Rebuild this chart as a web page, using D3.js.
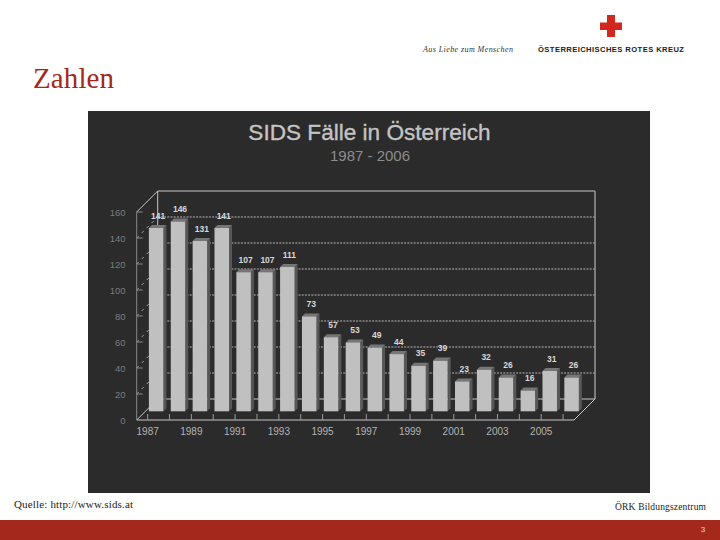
<!DOCTYPE html>
<html>
<head>
<meta charset="utf-8">
<script src="https://cdn.jsdelivr.net/npm/d3@7"></script>
<style>
  html, body { margin: 0; padding: 0; background: #fff; }
  svg { display: block; }
  text { font-family: "Liberation Sans", sans-serif; }
  .serif { font-family: "Liberation Serif", serif; }
</style>
</head>
<body>
<script>
const years = [1987, 1988, 1989, 1990, 1991, 1992, 1993, 1994, 1995, 1996,
  1997, 1998, 1999, 2000, 2001, 2002, 2003, 2004, 2005, 2006]
const cases = [141, 146, 131, 141, 107, 107, 111, 73, 57, 53,
  49, 44, 35, 39, 23, 32, 26, 16, 31, 26]
const yTicks = [0, 20, 40, 60, 80, 100, 120, 140, 160]
const xTicks = [1987, 1989, 1991, 1993, 1995, 1997, 1999, 2001, 2003, 2005]

const svg = d3.select("body").append("svg")
  .attr("width", 720)
  .attr("height", 540)

// slide

svg.append("rect").attr("x", 0).attr("y", 520).attr("width", 720).attr("height", 20).attr("fill", "#a4281c")
svg.append("text").attr("x", 703).attr("y", 532).attr("text-anchor", "middle")
  .attr("font-size", 8).attr("fill", "#f0d8d0").text("3")

svg.append("text").attr("class", "serif").attr("x", 33).attr("y", 88)
  .attr("font-size", 29).attr("textLength", 81).attr("fill", "#a4281c").text("Zahlen")

svg.append("text").attr("class", "serif").attr("x", 14).attr("y", 508)
  .attr("font-size", 11).attr("textLength", 119).attr("fill", "#222").text("Quelle: http://www.sids.at")
svg.append("text").attr("class", "serif").attr("x", 615).attr("y", 510)
  .attr("font-size", 9.5).attr("textLength", 91).attr("fill", "#222").text("ÖRK Bildungszentrum")

// logo
svg.append("rect").attr("x", 600).attr("y", 22.5).attr("width", 22).attr("height", 7.5).attr("fill", "#d0281f")
svg.append("rect").attr("x", 607).attr("y", 15).attr("width", 8).attr("height", 22).attr("fill", "#d0281f")
svg.append("text").attr("x", 538).attr("y", 52)
  .attr("font-size", 7.6).attr("font-weight", "bold").attr("textLength", 146).attr("fill", "#222")
  .text("ÖSTERREICHISCHES ROTES KREUZ")
svg.append("text").attr("class", "serif").attr("x", 423).attr("y", 52)
  .attr("font-size", 8).attr("font-style", "italic").attr("textLength", 90).attr("fill", "#333")
  .text("Aus Liebe zum Menschen")

// chart panel

svg.append("rect").attr("x", 88).attr("y", 111).attr("width", 562).attr("height", 382).attr("fill", "#2b2b2b")

svg.append("text").attr("x", 369.5).attr("y", 139.5).attr("text-anchor", "middle")
  .attr("font-size", 22.6).attr("fill", "#c4c4c4")
  .attr("stroke", "#c4c4c4").attr("stroke-width", 0.35)
  .text("SIDS Fälle in Österreich")
svg.append("text").attr("x", 370).attr("y", 160.5).attr("text-anchor", "middle")
  .attr("font-size", 15).attr("fill", "#8c8c8c").text("1987 - 2006")

const depth = 21
const x = d3.scaleBand().domain(years).range([136.7, 574])
const y = d3.scaleLinear().domain([0, 160]).range([420, 212])

// back wall and floor

const wallColor = "#c8c8c8"
const line = (x1, y1, x2, y2, color = wallColor, w = 1, dash = null) =>
  svg.append("line")
    .attr("x1", x1).attr("y1", y1).attr("x2", x2).attr("y2", y2)
    .attr("stroke", color).attr("stroke-width", w).attr("stroke-dasharray", dash)

const [x0, x1] = x.range()

yTicks.slice(1, -1).forEach(t => {
  line(x0 + depth, y(t) - depth, x1 + depth, y(t) - depth, "#b8b8b8", 1, "2 1.2")
  line(x0, y(t), x0 + depth, y(t) - depth, "#a0a0a0", 1, "3 4")
})
line(x0, y(160), x0 + depth, y(160) - depth)
line(x0 + depth, y(160) - depth, x1 + depth, y(160) - depth)
line(x0 + depth, y(160) - depth, x0 + depth, y(0) - depth)
line(x1 + depth, y(160) - depth, x1 + depth, y(0) - depth, "#999", 1.5)
line(x0 + depth, y(0) - depth, x1 + depth, y(0) - depth)
line(x0, y(0), x0 + depth, y(0) - depth)
line(x1, y(0), x1 + depth, y(0) - depth)
line(x0, y(0), x1, y(0))
line(x0, y(0), x0, y(160), "#888")

yTicks.slice(1).forEach(t => line(x0, y(t), x0 + 6, y(t), "#888"))
years.forEach(v => {
  const cx = x(v) + x.bandwidth() / 2
  line(cx, y(0), cx, y(0) - 6, "#999")
})

// bars

const barW = 14.5
const barLeft = d => x(d) + 12.6 - 0.4
const barBase = y(0) - 8.7
const barTop = v => barBase - (y(0) - y(v))
const side = 3

const bars = svg.selectAll(".bar")
  .data(years.map((year, i) => ({ year, value: cases[i] })))
  .enter().append("g")
  .attr("class", "bar")

bars.append("path")
  .attr("fill", "#585858")
  .attr("d", d => {
    const l = barLeft(d.year) + barW, t = barTop(d.value)
    return `M${l},${t}L${l + side},${t - side}L${l + side},${barBase - side}L${l},${barBase}Z`
  })
bars.append("path")
  .attr("fill", "#767676")
  .attr("d", d => {
    const l = barLeft(d.year), t = barTop(d.value)
    return `M${l},${t}L${l + side},${t - side}L${l + barW + side},${t - side}L${l + barW},${t}Z`
  })
bars.append("rect")
  .attr("x", d => barLeft(d.year))
  .attr("y", d => barTop(d.value))
  .attr("width", barW)
  .attr("height", d => barBase - barTop(d.value))
  .attr("fill", "#c0c0c0")

bars.append("text")
  .attr("x", d => barLeft(d.year) + barW / 2 + 2)
  .attr("y", d => barTop(d.value) - 9.5)
  .attr("text-anchor", "middle")
  .attr("font-size", 8.5)
  .attr("font-weight", "bold")
  .attr("fill", "#d8d8d8")
  .text(d => d.value)

// axes

const yAxis = d3.axisLeft(y).tickValues(yTicks).tickSize(0).tickPadding(0)
svg.append("g")
  .attr("transform", "translate(125.5,0)")
  .call(yAxis)
  .call(g => g.select(".domain").remove())
  .call(g => g.selectAll("text").attr("font-size", 9.5).attr("fill", "#7c7c7c").attr("font-family", "Liberation Sans"))

const xAxis = d3.axisBottom(x).tickValues(xTicks).tickSize(0).tickPadding(0)
svg.append("g")
  .attr("transform", "translate(0,428)")
  .call(xAxis)
  .call(g => g.select(".domain").remove())
  .call(g => g.selectAll("text").attr("font-size", 10).attr("fill", "#b4b4b4").attr("font-family", "Liberation Sans"))
</script>
</body>
</html>
